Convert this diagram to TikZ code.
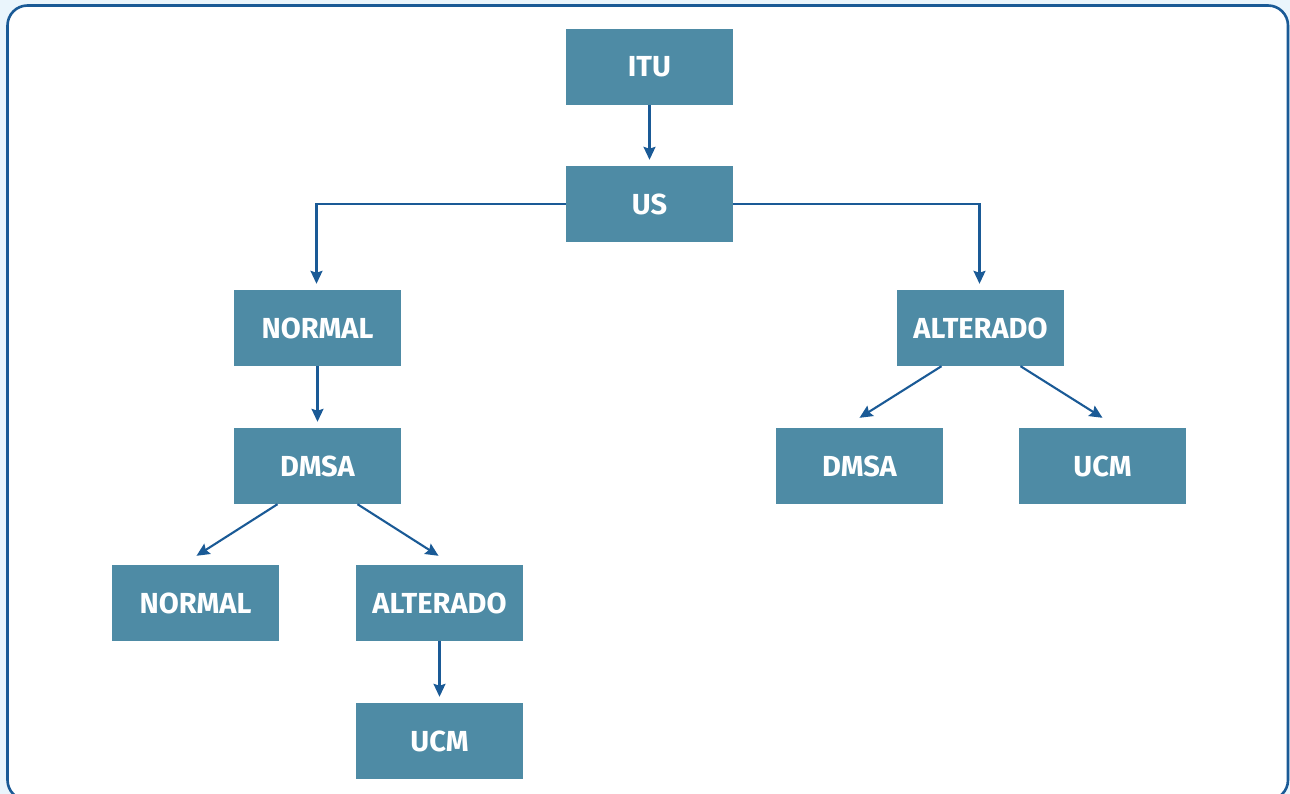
\documentclass[tikz,border=0pt]{standalone}
\usepackage{fontspec}
\setmainfont{Fira Sans}
\usetikzlibrary{arrows.meta,calc}
\definecolor{boxc}{HTML}{4E8BA5}
\definecolor{arrc}{HTML}{1A5A96}
\definecolor{bgc}{HTML}{EAF5FC}
\begin{document}
\begin{tikzpicture}[x=1pt,y=-1pt,
  box/.style={fill=boxc,draw=none,minimum width=167pt,minimum height=76pt,inner sep=0pt,text=white,font=\fontsize{29}{32}\selectfont\bfseries},
  arr/.style={draw=arrc,line width=2.1pt,-{Stealth[length=13pt,width=12pt,inset=2pt]}}]
\fill[bgc] (0,0) rectangle (1290,794);
\useasboundingbox (0,0) rectangle (1290,794);
\draw[arrc,line width=2.6pt,fill=white,rounded corners=20pt] (7.5,5.5) rectangle (1288,800);
\node[box] (itu) at (649.5,67) {ITU};
\node[box] (us) at (649.5,204) {US};
\node[box] (n1) at (317.5,328) {NORMAL};
\node[box] (a1) at (980.5,328) {ALTERADO};
\node[box] (d1) at (317.5,466) {DMSA};
\node[box] (d2) at (859.5,466) {DMSA};
\node[box] (u2) at (1102.5,466) {UCM};
\node[box] (n2) at (195.5,603) {NORMAL};
\node[box] (a2) at (439.5,603) {ALTERADO};
\node[box] (u1) at (439.5,741) {UCM};
\draw[arr] (itu.south) -- ($(us.north)+(0,-6)$);
\draw[arr] (us.west) -| ($(n1.north)+(-1,-6)$);
\draw[arr] (us.east) -| ($(a1.north)+(-1,-6)$);
\draw[arr] (n1.south) -- ($(d1.north)+(0,-6)$);
\draw[arr] ($(d1.south)+(-40,0)$) -- ($(n2.north)+(1,-9)$);
\draw[arr] ($(d1.south)+(40,0)$) -- ($(a2.north)+(-1,-9)$);
\draw[arr] ($(a1.south)+(-39,0)$) -- ($(d2.north)+(0,-10)$);
\draw[arr] ($(a1.south)+(40,0)$) -- ($(u2.north)+(0,-10)$);
\draw[arr] (a2.south) -- ($(u1.north)+(0,-6)$);
\end{tikzpicture}
\end{document}
